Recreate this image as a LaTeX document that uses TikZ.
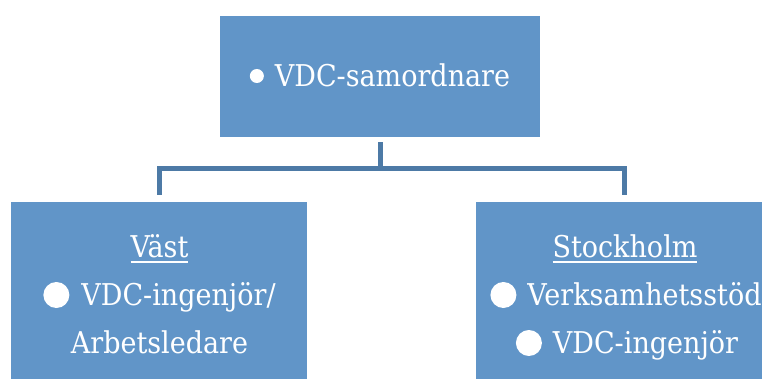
\documentclass[tikz,border=0pt]{standalone}
\usepackage{fontspec}
\setmainfont{DejaVu Serif}[FakeStretch=0.9]
\definecolor{boxblue}{RGB}{97,149,200}
\definecolor{linkblue}{RGB}{77,122,166}
% white list bullets, drawn as discs sitting on the baseline
\newcommand\bigdot{\tikz[baseline=0pt]\fill[white] (0pt,10pt) circle[radius=13pt];}
\newcommand\smalldot{\tikz[baseline=0pt]\fill[white] (0pt,11pt) circle[radius=7pt];}
% thick underline for the region headings
\newcommand\headline[1]{\setbox0\hbox{#1}\rlap{\rule[-5pt]{\wd0}{2pt}}\box0}
\begin{document}
\begin{tikzpicture}[x=1pt,y=-1pt,
  box/.style={fill=boxblue, draw=none, inner sep=0pt},
  txt/.style={text=white, inner sep=0pt, anchor=base, font=\fontsize{30}{36}\selectfont},
  conn/.style={draw=linkblue, line width=5pt}]
\useasboundingbox (0,0) rectangle (762,379);
\clip (0,0) rectangle (762,379);

% boxes
\node[box, minimum width=320pt, minimum height=121pt] (top) at (380,76.5) {};
\node[box, minimum width=296pt, minimum height=186pt] (vast) at (159,295) {};
\node[box, minimum width=297pt, minimum height=186pt] (sthlm) at (624.5,295) {};

% texts
\node[txt] (topl) at (380,87) {\smalldot\hspace{11pt}VDC-samordnare};
\node[txt] (vast1) at (159.5,258) {\headline{Väst}};
\node[txt] (vast2) at (159.5,305) {\bigdot\hspace{12pt}VDC-ingenjör/};
\node[txt] (vast3) at (159.5,353) {Arbetsledare};
\node[txt] (sthlm1) at (625,258) {\headline{Stockholm}};
\node[txt] (sthlm2) at (626,305) {\bigdot\hspace{11pt}Verksamhetsstöd};
\node[txt] (sthlm3) at (627,353) {\bigdot\hspace{11pt}VDC-ingenjör};

% connectors
\coordinate (hub) at (380,169);
\draw[conn] ([yshift=-5pt]top.south) -- (hub);
\draw[conn] ([yshift=7pt]vast.north) |- (hub) -| ([yshift=7pt]sthlm.north);
\end{tikzpicture}
\end{document}
